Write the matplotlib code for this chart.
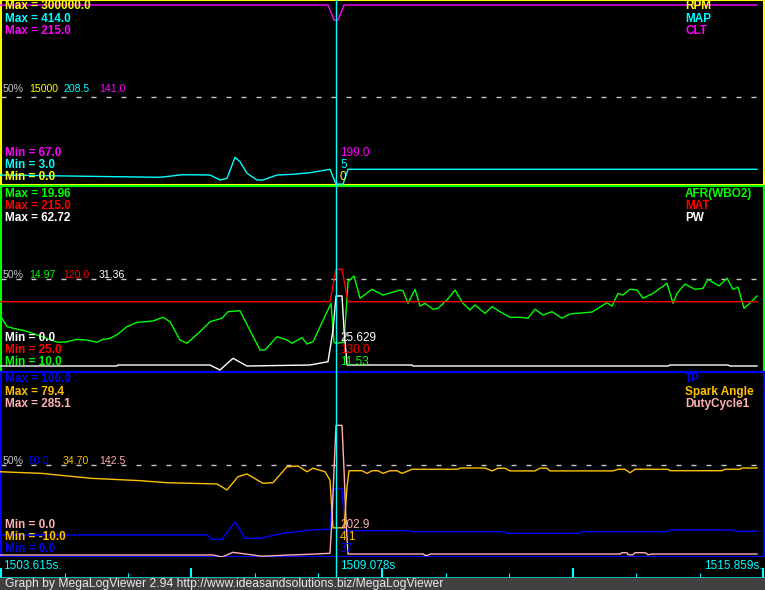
import numpy as np
import matplotlib
matplotlib.use("Agg")
from matplotlib import pyplot as plt
from matplotlib.patches import Rectangle

plt.rcParams['font.family'] = ['Liberation Sans', 'DejaVu Sans']

W, H = 765, 590
PX_PER_S = 61.14      # horizontal zoom of the log view
T_PX0 = 1503.585      # log time at the left pixel

t_first, t_cursor, t_last = 1503.615, 1509.078, 1515.859

## Panel 1 : RPM / MAP / CLT
rpm_t = [1503.585, 1515.967]
rpm_v = [0.0, 0.0]

map_t = [1503.585, 1505.499, 1506.202, 1506.578, 1507.020, 1507.183, 1507.298, 1507.429, 1507.510, 1507.625,
         1507.788, 1507.887, 1508.116, 1508.377, 1508.655, 1508.982, 1509.081, 1509.195, 1509.277, 1515.967]
map_v = [25.2, 21.4, 20.1, 25.9, 25.2, 14.1, 17.9, 64.5, 54.8, 29.0,
         14.1, 14.1, 25.2, 26.8, 30.3, 37.9, 5.0, 5.0, 37.9, 37.9]

clt_t = [1503.585, 1508.950, 1509.048, 1509.113, 1509.212, 1515.967]
clt_v = [211, 211, 199, 199, 211, 211]

## Panel 2 : AFR / MAT / PW
afr_t = [1503.585, 1503.700, 1503.863, 1503.994, 1504.534, 1504.681, 1504.844, 1505.008, 1505.172, 1505.270,
         1505.384, 1505.515, 1505.662, 1505.826, 1506.087, 1506.251, 1506.366, 1506.529, 1506.644, 1506.856,
         1507.020, 1507.216, 1507.314, 1507.510, 1507.838, 1507.919, 1508.116, 1508.279, 1508.361, 1508.525,
         1508.606, 1508.705, 1508.999, 1509.048, 1509.081, 1509.212, 1509.277, 1509.375, 1509.473, 1509.669,
         1509.849, 1510.127, 1510.176, 1510.258, 1510.373, 1510.455, 1510.536, 1510.667, 1510.749, 1510.896,
         1511.027, 1511.158, 1511.272, 1511.354, 1511.518, 1511.632, 1511.763, 1511.927, 1512.090, 1512.221,
         1512.335, 1512.466, 1512.614, 1512.777, 1512.908, 1513.268, 1513.513, 1513.595, 1513.693, 1513.775,
         1513.889, 1514.004, 1514.102, 1514.265, 1514.494, 1514.593, 1514.658, 1514.789, 1514.952, 1515.083,
         1515.165, 1515.345, 1515.476, 1515.574, 1515.656, 1515.754, 1515.819, 1515.967]
afr_v = [13.05, 12.43, 12.29, 12.21, 11.59, 11.62, 11.75, 11.71, 11.59, 11.75,
         11.80, 12.03, 12.43, 12.66, 12.73, 12.93, 12.69, 11.71, 11.54, 12.16,
         12.69, 12.88, 13.23, 13.28, 11.18, 11.18, 11.89, 11.71, 11.54, 11.84,
         11.50, 11.62, 13.68, 11.60, 11.53, 11.60, 14.84, 15.14, 13.95, 14.43,
         14.12, 14.39, 14.35, 13.68, 14.43, 13.53, 13.68, 13.36, 13.41, 13.86,
         14.39, 13.68, 13.32, 13.59, 13.14, 13.50, 13.23, 12.93, 12.93, 12.88,
         13.36, 13.05, 13.23, 12.88, 13.11, 13.21, 13.71, 13.53, 14.21, 14.12,
         14.43, 14.39, 13.95, 14.21, 14.75, 13.68, 14.21, 14.71, 14.43, 14.48,
         14.96, 14.61, 15.02, 14.43, 14.54, 13.41, 13.59, 14.07]

mat_t = [1503.585, 1508.982, 1509.081, 1509.179, 1509.277, 1515.967]
mat_v = [96.8, 96.8, 130.0, 130.0, 96.8, 96.8]

pw_t = [1503.585, 1505.499, 1505.515, 1507.020, 1507.183, 1507.396, 1507.625, 1508.655, 1508.950, 1509.032,
        1509.081, 1509.179, 1509.212, 1509.261, 1510.324, 1510.340, 1514.510, 1514.543, 1515.492, 1515.525,
        1515.967]
pw_v = [2.02, 2.02, 2.36, 2.36, 0.67, 4.62, 2.02, 2.36, 3.47, 14.16,
        25.63, 25.63, 14.16, 2.36, 2.36, 2.02, 2.02, 2.36, 2.36, 2.02,
        2.02]

## Panel 3 : TP / Spark Angle / DutyCycle1
tp_t = [1503.585, 1506.971, 1507.053, 1507.216, 1507.429, 1507.592, 1507.870, 1507.952, 1508.214, 1508.655,
        1508.982, 1509.032, 1509.179, 1509.228, 1510.291, 1510.324, 1511.845, 1511.878, 1513.039, 1513.104,
        1514.510, 1514.543, 1515.574, 1515.607, 1515.967]
tp_v = [11.9, 11.9, 9.6, 9.6, 19.1, 10.1, 10.1, 11.0, 12.8, 14.6,
        15.0, 37.0, 37.0, 14.2, 14.2, 13.7, 13.7, 12.8, 12.8, 13.7,
        13.7, 14.6, 14.6, 13.9, 13.9]

spk_t = [1503.585, 1504.272, 1504.534, 1505.090, 1505.875, 1506.316, 1507.134, 1507.298, 1507.478, 1507.625,
         1507.887, 1508.050, 1508.279, 1508.459, 1508.606, 1508.705, 1508.901, 1508.982, 1509.032, 1509.212,
         1509.261, 1509.293, 1509.506, 1509.588, 1509.669, 1509.768, 1509.849, 1509.964, 1510.078, 1510.160,
         1510.324, 1511.076, 1511.109, 1511.518, 1511.632, 1511.730, 1511.845, 1511.927, 1512.335, 1512.417,
         1512.532, 1512.581, 1513.611, 1513.693, 1513.808, 1513.889, 1513.971, 1514.510, 1514.543, 1515.394,
         1515.443, 1515.688, 1515.721, 1515.967]
spk_v = [31.2, 30.4, 29.6, 28.0, 26.9, 25.9, 25.3, 22.4, 28.8, 30.1,
         25.6, 25.9, 33.6, 34.0, 31.2, 32.9, 31.2, 27.2, 4.1, 4.1,
         24.0, 31.7, 31.7, 30.4, 31.7, 31.7, 30.4, 31.7, 31.7, 30.4,
         32.4, 32.4, 33.0, 33.0, 31.6, 32.9, 32.9, 31.6, 31.6, 32.9,
         32.9, 31.6, 31.6, 32.4, 32.4, 30.7, 32.4, 32.4, 31.7, 31.7,
         32.4, 32.4, 33.0, 33.0]

duty_t = [1503.585, 1507.069, 1507.216, 1507.396, 1507.510, 1507.723, 1507.838, 1507.952, 1508.328, 1508.655,
          1508.982, 1509.015, 1509.048, 1509.081, 1509.179, 1509.212, 1509.244, 1509.277, 1510.504, 1510.536,
          1510.585, 1510.618, 1513.726, 1513.759, 1513.840, 1513.857, 1513.938, 1513.971, 1514.135, 1514.184,
          1514.249, 1515.967]
duty_v = [3.1, 3.1, 0.0, 7.2, 5.7, 3.1, 1.5, 1.5, 3.1, 4.2,
          5.7, 57.0, 134.0, 202.9, 202.9, 134.0, 57.0, 4.6, 4.6, 2.6,
          2.6, 4.6, 4.6, 6.6, 6.6, 3.5, 3.5, 6.6, 6.6, 3.5,
          4.6, 4.6]

# per panel: name, colour, min, max, max label, min label, 50% label, cursor value
panels = [
    [("RPM", "#ffff00", 0, 300000, "300000.0", "0.0", "15000", "0", rpm_t, rpm_v),
     ("MAP", "#00ffff", 3, 414, "414.0", "3.0", "208.5", "5", map_t, map_v),
     ("CLT", "#ff00ff", 67, 215, "215.0", "67.0", "141.0", "199.0", clt_t, clt_v)],
    [("AFR(WBO2)", "#00ff00", 10, 19.96, "19.96", "10.0", "14.97", "11.53", afr_t, afr_v),
     ("MAT", "#ff0000", 25, 215, "215.0", "25.0", "120.0", "130.0", mat_t, mat_v),
     ("PW", "#ffffff", 0, 62.72, "62.72", "0.0", "31.36", "25.629", pw_t, pw_v)],
    [("TP", "#0000ff", 0, 100, "100.0", "0.0", "50.0", "37", tp_t, tp_v),
     ("Spark Angle", "#ffc000", -10, 79.4, "79.4", "-10.0", "34.70", "4.1", spk_t, spk_v),
     ("DutyCycle1", "#ffb0b0", 0, 285.1, "285.1", "0.0", "142.5", "202.9", duty_t, duty_v)],
]
# panel pixel boxes (top, bottom) and text rows
boxes = [(0, 185), (186, 372), (372, 557)]
half_line = [0.476, 0.5, 0.5]
max_rows = [(6, 19, 31), (194, 206, 218), (379, 392, 404)]
min_rows = [(177, 165, 153), (362, 350, 338), (549, 537, 525)]
half_rows = [89, 275, 461]
half_x = [29, 63, 99]

major_ticks = [1503.601, 1506.717, 1509.833, 1512.949, 1516.065]
minor_ticks = [1504.640, 1505.679, 1507.756, 1508.794, 1510.872, 1511.910, 1513.987, 1515.026]


def px_t(x):
    return T_PX0 + x / PX_PER_S


def px_rect(x0, y0, x1, y1):
    return [x0 / W, 1 - y1 / H, (x1 - x0) / W, (y1 - y0) / H]


def label(x, y, s, color, bold=False, ha='left', size=8.5):
    fig.text(x / W, 1 - y / H, s, color=color, fontsize=size, ha=ha, va='center',
             fontweight='bold' if bold else 'normal')


fig = plt.figure(figsize=(W / 100, H / 100), dpi=100, facecolor='black')

for p, series in enumerate(panels):
    top, bot = boxes[p]
    ax = fig.add_axes(px_rect(1, top, 764, bot))
    ax.set_facecolor('black')
    ax.set_xlim(px_t(1), px_t(764))
    ax.set_ylim(0, 1)
    ax.set_xticks([])
    ax.set_yticks([])
    for s in ax.spines.values():
        s.set_color(series[0][1])
        s.set_linewidth(1.5)
    ax.axhline(half_line[p], color='#c8c8c8', lw=1, dashes=(3.6, 7.2))

    for i, (name, col, lo, hi, smax, smin, shalf, scur, t, v) in enumerate(series):
        tw = ax.twinx()
        tw.set_ylim(lo, hi)
        tw.axis('off')
        tw.plot(t, v, color=col, lw=1.0, clip_on=False)

        label(5, max_rows[p][i], "Max = " + smax, col, bold=True)
        label(685, max_rows[p][i], name, col, bold=True)
        label(5, min_rows[p][i], "Min = " + smin, col, bold=True)
        label(half_x[i], half_rows[p], shalf, col, size=7.6)
        label(340, min_rows[p][i], scur, col)
    label(3, half_rows[p], "50%", '#c8c8c8', size=7.6)

# time axis strip
ax_t = fig.add_axes(px_rect(0, 557, 765, 577.5))
ax_t.set_facecolor('black')
ax_t.set_xlim(px_t(0), px_t(765))
ax_t.set_ylim(0, 1)
ax_t.set_yticks([])
for side in ['top', 'left', 'right']:
    ax_t.spines[side].set_visible(False)
ax_t.spines['bottom'].set_color('#00ffff')
ax_t.spines['bottom'].set_linewidth(1.2)
ax_t.set_xticks(major_ticks)
ax_t.set_xticks(minor_ticks, minor=True)
ax_t.tick_params(axis='x', which='major', direction='in', length=7, width=1.5, colors='#00ffff', labelbottom=False)
ax_t.tick_params(axis='x', which='minor', direction='in', length=3.6, width=0.8, colors='#00ffff')

label(3, 566, "%.3fs." % t_first, '#00ffff')
label(340, 566, "%.3fs" % t_cursor, '#00ffff')
label(763, 566, "%.3fs." % t_last, '#00ffff', ha='right')

# cursor
ax_c = fig.add_axes(px_rect(0, 0, 765, 578))
ax_c.set_xlim(px_t(0), px_t(765))
ax_c.axis('off')
ax_c.axvline(t_cursor, color='#00ffff', lw=1.0)

# footer
fig.add_artist(Rectangle((0, 0), 1, 12 / H, color='#404040', transform=fig.transFigure))
label(5, 584, "Graph by MegaLogViewer 2.94 http://www.ideasandsolutions.biz/MegaLogViewer", '#e8e8e8', size=8.7)

fig.savefig('out.png', dpi=100, facecolor='black')
